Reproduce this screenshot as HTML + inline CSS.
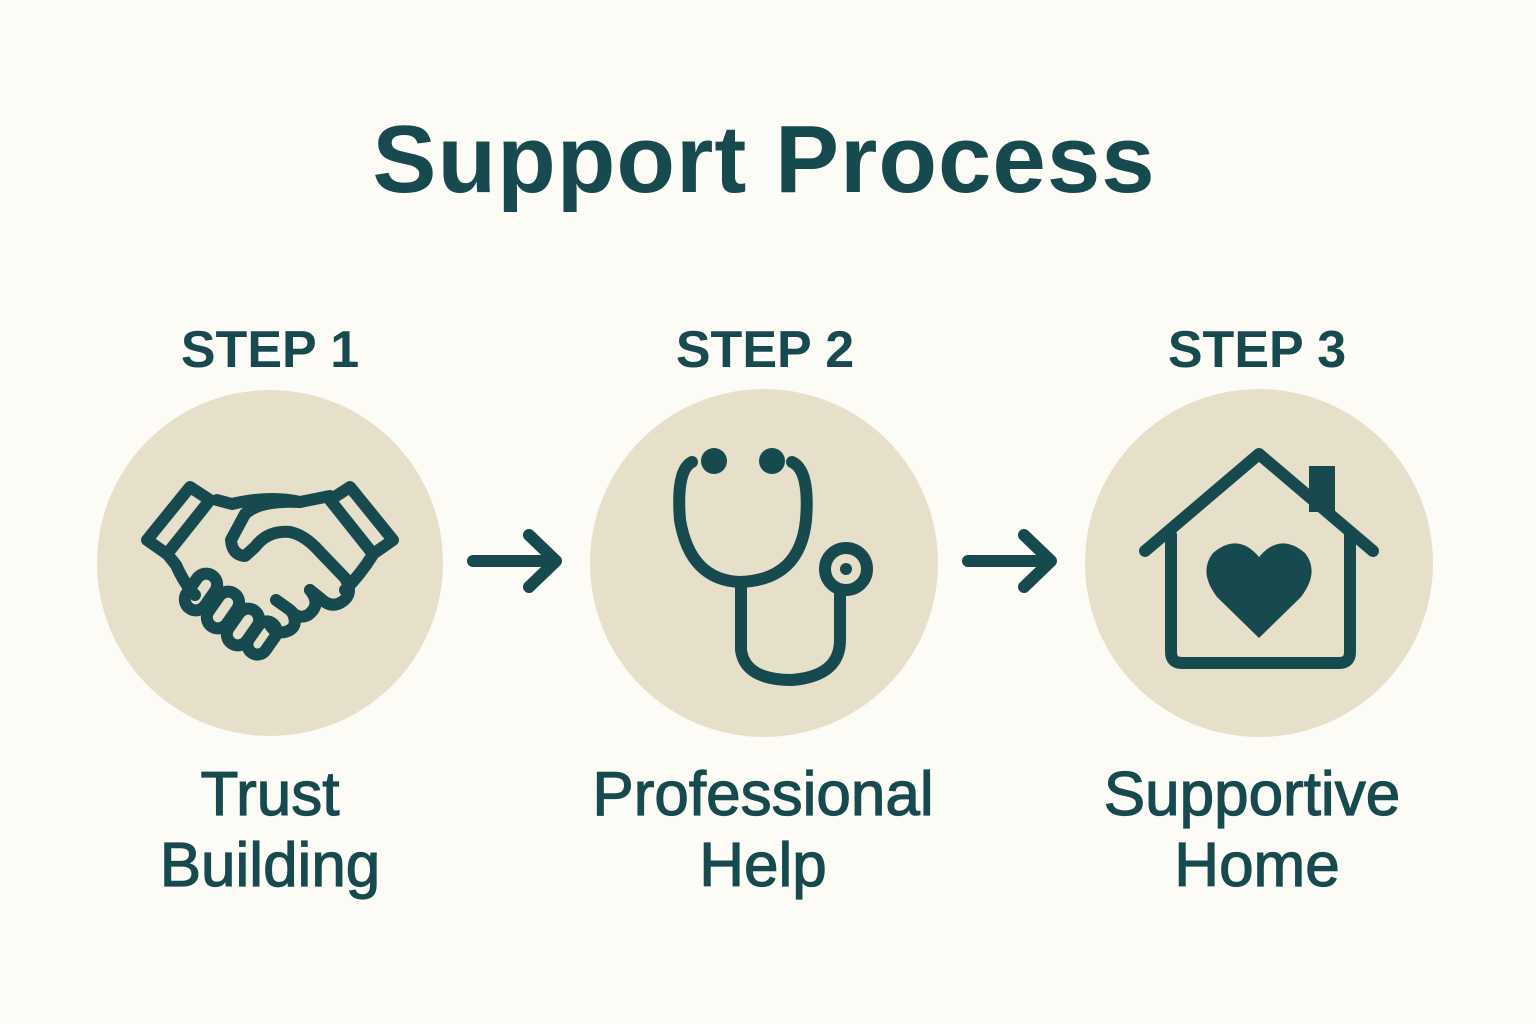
<!DOCTYPE html>
<html><head><meta charset="utf-8"><style>
html,body{margin:0;padding:0;background:#fcfbf6;}
svg{display:block}
text{font-family:"Liberation Sans",sans-serif;fill:#174a4f;text-anchor:middle}
.lb{stroke:#174a4f;stroke-width:1.2}
</style></head><body>
<svg width="1536" height="1024" viewBox="0 0 1536 1024">
<rect width="1536" height="1024" fill="#fcfbf6"/>
<text x="764" y="192" font-size="96" font-weight="bold" letter-spacing="1">Support Process</text>
<text x="270" y="367" font-size="52" font-weight="bold">STEP 1</text>
<text x="765" y="367" font-size="52" font-weight="bold">STEP 2</text>
<text x="1257" y="367" font-size="52" font-weight="bold">STEP 3</text>
<circle cx="270" cy="563" r="173" fill="#e6dfca"/>
<circle cx="764" cy="563" r="174" fill="#e6dfca"/>
<circle cx="1259" cy="563" r="174" fill="#e6dfca"/>
<g stroke="#174a4f" stroke-width="12" fill="none" stroke-linecap="round" stroke-linejoin="round">
<path d="M473 561H555M529 535L556 561L529 587"/>
<path d="M968 561H1050M1024 535L1051 561L1024 587"/>
<path d="M190 487L147 540L167 554L210 500Z"/>
<path d="M350 487L393 540L373 554L330 500Z"/>
<path d="M217 500L232 504Q270 495 300 502L330 496"/>
<path d="M168 555L176 565Q185 585 195 595"/>
<path d="M372 556Q360 575 345 590"/>
<path d="M300 502Q260 500 245 514L231 540Q232 555 245 556L255 547Q268 530 290 532Q305 535 320 552L345 578Q355 595 340 603Q330 608 320 598L310 590"/>
<path d="M310 590Q322 605 308 615Q298 620 290 610L276 600"/>
<path d="M292 612Q300 628 285 632Q275 634 270 625"/>
<rect x="190" y="572" width="22" height="40" rx="11" transform="rotate(35 201 592)"/>
<rect x="212" y="590" width="22" height="40" rx="11" transform="rotate(35 223 610)"/>
<rect x="232" y="607" width="22" height="40" rx="11" transform="rotate(35 243 627)"/>
<rect x="252" y="620" width="20" height="36" rx="10" transform="rotate(35 262 638)"/>
<path d="M692 462Q676 470 680 520Q690 580 740 582Q800 580 806 520Q810 470 792 462"/>
<path d="M741 583V650Q745 680 792 680Q840 676 840 640V595"/>
<circle cx="846" cy="569" r="21"/>
<path d="M1145 551L1259 454L1373 551"/>
<path d="M1171 535V652Q1171 663 1182 663H1339Q1350 663 1350 652V535"/>
</g>
<circle cx="846" cy="569" r="6" fill="#174a4f"/>
<circle cx="714" cy="461" r="13" fill="#174a4f"/>
<circle cx="772" cy="461" r="13" fill="#174a4f"/>
<rect x="1309" y="466" width="26" height="46" fill="#174a4f"/>
<path d="M1259 638L1217 597Q1198 572 1213 553Q1238 532 1259 557Q1280 532 1305 553Q1320 572 1301 597Z" fill="#174a4f"/>
<text class="lb" x="270" y="815" font-size="62">Trust</text>
<text class="lb" x="270" y="886" font-size="62">Building</text>
<text class="lb" x="763" y="815" font-size="62">Professional</text>
<text class="lb" x="763" y="886" font-size="62">Help</text>
<text class="lb" x="1252" y="815" font-size="62">Supportive</text>
<text class="lb" x="1257" y="886" font-size="62">Home</text>
</svg>
</body></html>
